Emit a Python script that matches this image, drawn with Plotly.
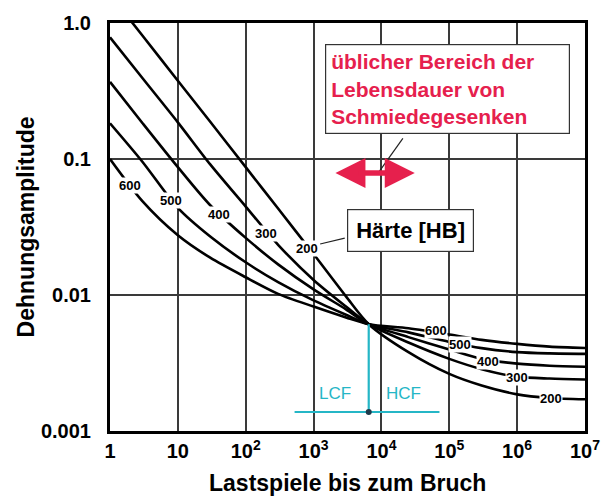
import numpy as np
import plotly.graph_objects as go

# ---------------- data ----------------
cycles = [1, 3, 10, 30, 100, 300, 1000, 3000, 6500, 25000, 1e5, 3e5, 1e6, 3e6, 1e7]

hardness = ["600", "500", "400", "300", "200"]
amp_600 = [0.100, 0.049, 0.0275, 0.0188, 0.0135, 0.0102, 0.00822, 0.00684, 0.0061, 0.00569, 0.00513, 0.00468, 0.00437, 0.00417, 0.00408]
amp_500 = [0.183, 0.0955, 0.0437, 0.0269, 0.0174, 0.01245, 0.00912, 0.00716, 0.0061, 0.00531, 0.00452, 0.00407, 0.0038, 0.00372, 0.00369]
amp_400 = [0.369, 0.184, 0.0871, 0.0457, 0.0263, 0.0168, 0.0110, 0.00785, 0.0061, 0.0049, 0.00398, 0.00339, 0.00313, 0.00302, 0.00297]
amp_300 = [0.785, 0.394, 0.186, 0.0912, 0.0447, 0.0234, 0.0129, 0.00822, 0.0061, 0.00447, 0.00339, 0.00285, 0.00251, 0.00243, 0.00239]
amp_200 = [1.62, 0.81, 0.376, 0.188, 0.0871, 0.0432, 0.0200, 0.00977, 0.0061, 0.0038, 0.00263, 0.00216, 0.00186, 0.00175, 0.00171]
series = [amp_600, amp_500, amp_400, amp_300, amp_200]

# curve label positions (N, amplitude)
label_left_N = [1.95, 7.9, 40, 200, 810]
label_left_eps = [0.064, 0.0495, 0.0392, 0.0285, 0.0221]
label_right_N = [63000, 145000, 370000, 1.0e6, 3.2e6]
label_right_eps = [0.00552, 0.00436, 0.00323, 0.00247, 0.00174]

x_tickvals = [1, 10, 100, 1e3, 1e4, 1e5, 1e6, 1e7]
x_ticktext = ["1", "10", "10<sup>2</sup>", "10<sup>3</sup>", "10<sup>4</sup>",
              "10<sup>5</sup>", "10<sup>6</sup>", "10<sup>7</sup>"]
y_tickvals = [0.001, 0.01, 0.1, 1.0]
y_ticktext = ["0.001", "0.01", "0.1", "1.0"]

# LCF / HCF marker
transition_N = 6500
transition_eps = 0.0061
hline_N = [525, 71600]
hline_eps = 0.00138
lcf_pos = (2050, 0.00189)
hcf_pos = (20800, 0.00189)

# forging die range arrow
range_N = [2100, 31000]
range_tail_N = [14000, 4300]
range_eps = 0.079
box_pos = (95000, 0.326)
box_leader_N = [20700, 8980]
box_leader_eps = [0.142, 0.0791]

haerte_pos = (26500, 0.0297)
haerte_leader_N = [1250, 2880]
haerte_leader_eps = [0.0237, 0.0262]

RED = "#e6204d"
CYAN = "#25b6c6"
FONT = "Liberation Sans, Arial, sans-serif"

fig = go.Figure()

for amps in series:
    fig.add_trace(go.Scatter(x=cycles, y=amps, mode="lines",
                             line=dict(color="black", width=2.6, shape="spline", smoothing=0.8),
                             showlegend=False, hoverinfo="skip"))

# cyan LCF/HCF lines
fig.add_trace(go.Scatter(x=[transition_N, transition_N], y=[transition_eps, hline_eps], mode="lines",
                         line=dict(color=CYAN, width=2.2), showlegend=False))
fig.add_trace(go.Scatter(x=hline_N, y=[hline_eps, hline_eps], mode="lines",
                         line=dict(color=CYAN, width=2.2), showlegend=False))
fig.add_trace(go.Scatter(x=[transition_N], y=[hline_eps], mode="markers",
                         marker=dict(color="#1f3a4a", size=6), showlegend=False))

# leader lines
fig.add_trace(go.Scatter(x=box_leader_N, y=box_leader_eps, mode="lines",
                         line=dict(color="#222", width=1.2), showlegend=False))
fig.add_trace(go.Scatter(x=haerte_leader_N, y=haerte_leader_eps, mode="lines",
                         line=dict(color="#222", width=1.2), showlegend=False))

ann = []
for t, n, e in zip(hardness, label_left_N, label_left_eps):
    ann.append(dict(x=np.log10(n), y=np.log10(e), text=t, showarrow=False,
                    font=dict(family=FONT, size=13, color="black", weight="bold"),
                    bgcolor="white", borderpad=0))
for t, n, e in zip(hardness, label_right_N, label_right_eps):
    ann.append(dict(x=np.log10(n), y=np.log10(e), text=t, showarrow=False,
                    font=dict(family=FONT, size=13, color="black", weight="bold"),
                    bgcolor="white", borderpad=0))

ann.append(dict(x=np.log10(lcf_pos[0]), y=np.log10(lcf_pos[1]), text="LCF", showarrow=False,
                font=dict(family=FONT, size=17, color=CYAN)))
ann.append(dict(x=np.log10(hcf_pos[0]), y=np.log10(hcf_pos[1]), text="HCF", showarrow=False,
                font=dict(family=FONT, size=17, color=CYAN)))

# red double arrow (tails overlap so the shaft is continuous)
for xe, xt in zip(range_N, range_tail_N):
    ann.append(dict(x=np.log10(xe), y=np.log10(range_eps), ax=np.log10(xt), ay=np.log10(range_eps),
                    axref="x", ayref="y", text="", showarrow=True, arrowhead=2, arrowsize=1.2,
                    arrowwidth=5, arrowcolor=RED))

ann.append(dict(x=np.log10(box_pos[0]), y=np.log10(box_pos[1]),
                text="üblicher Bereich der&nbsp;&nbsp;&nbsp;&nbsp;&nbsp;<br>Lebensdauer von<br>Schmiedegesenken",
                showarrow=False, align="left",
                font=dict(family=FONT, size=21, color=RED, weight="bold"),
                bgcolor="white", bordercolor="#333", borderwidth=1.2, borderpad=5))

ann.append(dict(x=np.log10(haerte_pos[0]), y=np.log10(haerte_pos[1]), text="Härte [HB]",
                showarrow=False, font=dict(family=FONT, size=22, color="black", weight="bold"),
                bgcolor="white", bordercolor="#333", borderwidth=1.2, borderpad=8))

# axis titles
ann.append(dict(xref="paper", yref="paper", x=0.5, y=-0.128, yanchor="middle",
                text="Lastspiele bis zum Bruch", showarrow=False,
                font=dict(family=FONT, size=23, color="black", weight="bold")))
ann.append(dict(xref="paper", yref="paper", x=-0.176, y=0.5, xanchor="center", yanchor="middle",
                textangle=-90,
                text="Dehnungsamplitude", showarrow=False,
                font=dict(family=FONT, size=23, color="black", weight="bold")))

fig.update_layout(
    width=612, height=497,
    margin=dict(l=110, r=20, t=18, b=66),
    paper_bgcolor="white", plot_bgcolor="white",
    annotations=ann,
    showlegend=False,
)
fig.update_xaxes(type="log", range=[0, 7], tickvals=x_tickvals, ticktext=x_ticktext,
                 showgrid=True, gridcolor="#3a3a3a", gridwidth=1.5,
                 showline=True, linecolor="black", linewidth=3, mirror=True,
                 ticks="", ticklabelstandoff=0,
                 tickfont=dict(family=FONT, size=20, color="black", weight="bold"),
                 zeroline=False)
fig.update_yaxes(type="log", range=[-3, 0], tickvals=y_tickvals, ticktext=y_ticktext,
                 showgrid=True, gridcolor="#3a3a3a", gridwidth=1.5,
                 showline=True, linecolor="black", linewidth=3, mirror=True,
                 ticks="", ticklabelstandoff=12,
                 tickfont=dict(family=FONT, size=20, color="black", weight="bold"),
                 zeroline=False)

fig.write_html("out.html")
